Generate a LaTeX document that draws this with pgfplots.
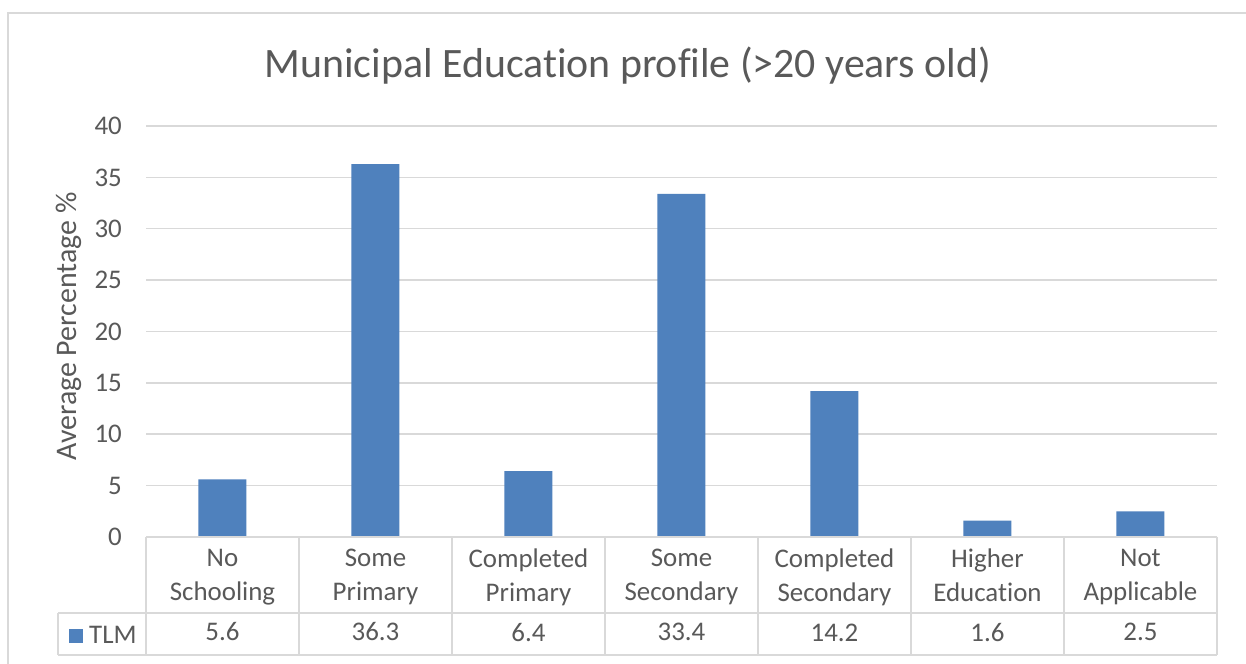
\documentclass[border=0pt]{standalone}
\usepackage{fontspec}
\setmainfont{Carlito}[Ligatures=NoCommon]
\usepackage{pgfplots}
\pgfplotsset{compat=1.18}
\definecolor{barblue}{HTML}{4F81BD}
\definecolor{txt}{HTML}{595959}
\definecolor{gridc}{HTML}{D9D9D9}
\begin{document}
\begin{tikzpicture}
\useasboundingbox (0,0) rectangle (1246bp,664bp);
\clip (0,0) rectangle (1246bp,664bp);
\fill[white] (0,0) rectangle (1246bp,664bp);
\draw[gridc, line width=2bp] (8bp,-20bp) -- (8bp,651bp) -- (1270bp,651bp);
\begin{axis}[
  at={(146bp,127bp)}, anchor=south west,
  scale only axis, width=1071bp, height=411bp,
  xmin=-0.5, xmax=6.5, ymin=0, ymax=40,
  ytick={0,5,...,40},
  xtick={0,...,6},
  xticklabels={{No\\Schooling\\[6bp]5.6},{Some\\Primary\\[6bp]36.3},{Completed\\Primary\\[6bp]6.4},{Some\\Secondary\\[6bp]33.4},{Completed\\Secondary\\[6bp]14.2},{Higher\\Education\\[6bp]1.6},{Not\\Applicable\\[6bp]2.5}},
  major tick length=0pt,
  axis line style={draw=none},
  ymajorgrids, major grid style={gridc, line width=1.5bp},
  tick label style={text=txt},
  xticklabel style={font=\fontsize{27}{34}\selectfont, align=center, anchor=north, inner sep=0pt, yshift=-12bp},
  yticklabel style={font=\fontsize{27}{33}\selectfont, anchor=east, inner sep=0pt, xshift=-24bp},
  /pgf/number format/assume math mode=true,
  ylabel={Average Percentage \%},
  ylabel style={font=\fontsize{30}{36}\selectfont, text=txt, at={(axis description cs:-0.0724,0.512)}, anchor=center},
  title={Municipal Education profile (>20 years old)},
  title style={font=\fontsize{42}{50}\selectfont, text=txt, at={(axis description cs:0.45,1.1046)}, anchor=base},
  legend style={at={(axis description cs:-0.0719,-0.240)}, anchor=west, draw=none, fill=none, inner sep=0pt, font=\fontsize{27}{33}\selectfont, text=txt, legend cell align=left},
  legend image code/.code={\fill[barblue] (0bp,-7bp) rectangle (14bp,7bp); \path (18bp,0bp);},
  clip=false,
]
\addplot[ybar, bar width=48bp, fill=barblue, draw=none] coordinates {
 (0,5.6) (1,36.3) (2,6.4) (3,33.4) (4,14.2) (5,1.6) (6,2.5)};
\addlegendentry{TLM}
\end{axis}
% data table grid
\draw[gridc, line width=1.5bp] (146bp,127bp) -- (1217bp,127bp);
\draw[gridc, line width=1.5bp] (58bp,51bp) -- (1217bp,51bp);
\draw[gridc, line width=1.5bp] (58bp,9bp) -- (1217bp,9bp);
\draw[gridc, line width=1.5bp] (58bp,51bp) -- (58bp,9bp);
\foreach \k in {0,...,7} {
  \pgfmathsetmacro{\xx}{146+153*\k}
  \draw[gridc, line width=1.5bp] (\xx bp,127bp) -- (\xx bp,9bp);
}
\end{tikzpicture}
\end{document}
